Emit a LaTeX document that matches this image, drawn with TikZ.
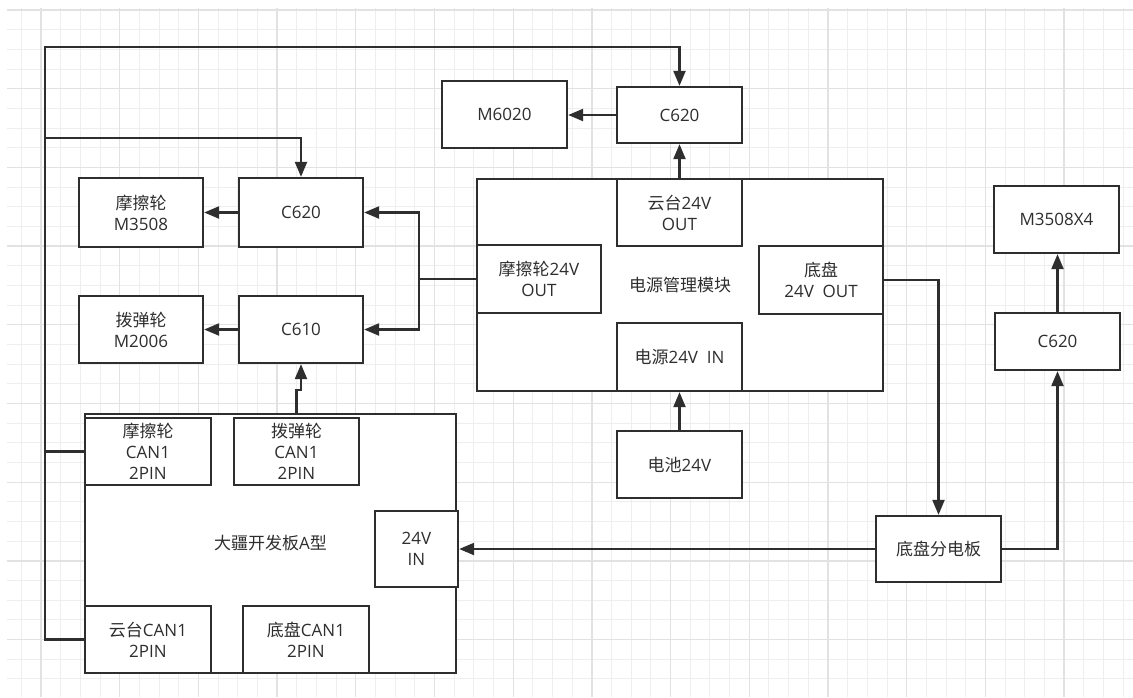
\documentclass[tikz,border=0pt]{standalone}
\usepackage{fontspec}
\setmainfont{Open Sans}
\newfontfamily\cjk{Noto Sans CJK SC}
\newcommand{\zh}[1]{{\cjk #1}}
\usetikzlibrary{arrows.meta}
\definecolor{ink}{HTML}{2E2E2E}
\definecolor{txt}{HTML}{2E2E2E}
\definecolor{gridminor}{HTML}{EEEEEE}
\definecolor{gridmajor}{HTML}{E2E2E2}
\begin{document}
\begin{tikzpicture}[x=1pt,y=-1pt,
  box/.style={draw=ink, line width=2.3pt, fill=white, rectangle, inner sep=0pt, align=center, text=txt, font=\fontsize{17}{21}\selectfont},
  arr/.style={draw=ink, line width=2.2pt, -{Triangle[length=15pt,width=12pt]}},
  wire/.style={draw=ink, line width=2.2pt},
  gminor/.style={draw=gridminor, line width=1pt},
  gmajor/.style={draw=gridmajor, line width=1.3pt}]
\useasboundingbox (0,0) rectangle (1133,697);
\fill[white] (0,0) rectangle (1133,697);
% grid
\foreach \k in {-1,...,55} { \draw[gminor] ({41+19.675*\k},8) -- ({41+19.675*\k},697); }
\foreach \k in {0,...,34} { \draw[gminor] (7,{10+19.675*\k}) -- (1133,{10+19.675*\k}); }
\foreach \k in {0,...,13} { \draw[gmajor] ({41+78.7*\k},8) -- ({41+78.7*\k},697); }
\foreach \k in {0,...,8} { \draw[gmajor] (7,{10+78.7*\k}) -- (1133,{10+78.7*\k}); }

% power management module
\node[box, minimum width=406pt, minimum height=212pt] (pm) at (680,285) {\zh{电源管理模块}};
\node[box, minimum width=125pt, minimum height=67pt] (ytout) at (679.5,212.5) {\zh{云台}24V\\OUT};
\node[box, minimum width=124pt, minimum height=68pt] (mcout) at (539,279) {\zh{摩擦轮}24V\\OUT};
\node[box, minimum width=124pt, minimum height=68pt] (dpout) at (821,280) {\zh{底盘}\\24V\ \ OUT};
\node[box, minimum width=125pt, minimum height=68pt] (dyin) at (679.5,357) {\zh{电源}24V\ \ IN};
\node[box, minimum width=125pt, minimum height=67pt] (bat) at (679.5,464.5) {\zh{电池}24V};

% top
\node[box, minimum width=125pt, minimum height=56pt] (c620t) at (679.5,115) {C620};
\node[box, minimum width=125pt, minimum height=67pt] (m6020) at (504.5,114.5) {M6020};

% left
\node[box, minimum width=124pt, minimum height=69pt] (c620a) at (301,212.5) {C620};
\node[box, minimum width=124pt, minimum height=69pt] (m3508) at (141,212.5) {\zh{摩擦轮}\\M3508};
\node[box, minimum width=124pt, minimum height=67pt] (c610) at (301,329.5) {C610};
\node[box, minimum width=124pt, minimum height=67pt] (m2006) at (141,329.5) {\zh{拨弹轮}\\M2006};

% dev board
\node[box, minimum width=371pt, minimum height=259pt] (board) at (270.5,543.5) {\zh{大疆开发板}A\zh{型}};
\node[box, minimum width=126pt, minimum height=67pt] (mccan) at (148,451.5) {\zh{摩擦轮}\\CAN1\\2PIN};
\node[box, minimum width=125pt, minimum height=67pt] (bdcan) at (296.5,451.5) {\zh{拨弹轮}\\CAN1\\2PIN};
\node[box, minimum width=83pt, minimum height=76pt] (in24) at (416.5,549) {24V\\IN};
\node[box, minimum width=126pt, minimum height=67pt] (ytcan) at (148,639.5) {\zh{云台}CAN1\\2PIN};
\node[box, minimum width=126pt, minimum height=67pt] (dpcan) at (306,639.5) {\zh{底盘}CAN1\\2PIN};

% right
\node[box, minimum width=125pt, minimum height=66pt] (fdb) at (938.5,549) {\zh{底盘分电板}};
\node[box, minimum width=125pt, minimum height=57pt] (c620r) at (1057.5,341.5) {C620};
\node[box, minimum width=125pt, minimum height=67pt] (m3508x4) at (1056.5,219.5) {M3508X4};

% connectors
\coordinate (topL) at (45,47);
\coordinate (midL) at (45,138);
\coordinate (fj) at (419,279);
\draw[arr] (ytcan.west) -| (topL) -| (c620t.north);
\draw[arr] (mccan.west) -| (midL) -| (c620a.north);
\draw[arr] (c620t.west) -- (c620t.west -| m6020.east);
\draw[arr] (ytout.north) -- (c620t.south);
\draw[arr] (bat.north) -- (dyin.south);
\draw[arr] (c620a.west) -- (m3508.east);
\draw[arr] (c610.west) -- (m2006.east);
\draw[wire] (mcout.west) -- (fj);
\draw[arr] (fj) |- (c620a.east);
\draw[arr] (fj) |- (c610.east);
\draw[arr] (bdcan.north |- board.north) -- ++(0,-23) -| (c610.south);
\draw[arr] (dpout.east) -| (fdb.north);
\draw[arr] (fdb.west) -- (in24.east);
\draw[arr] (fdb.east) -| (c620r.south);
\draw[arr] (c620r.north) -- (c620r.north |- m3508x4.south);
\end{tikzpicture}
\end{document}
